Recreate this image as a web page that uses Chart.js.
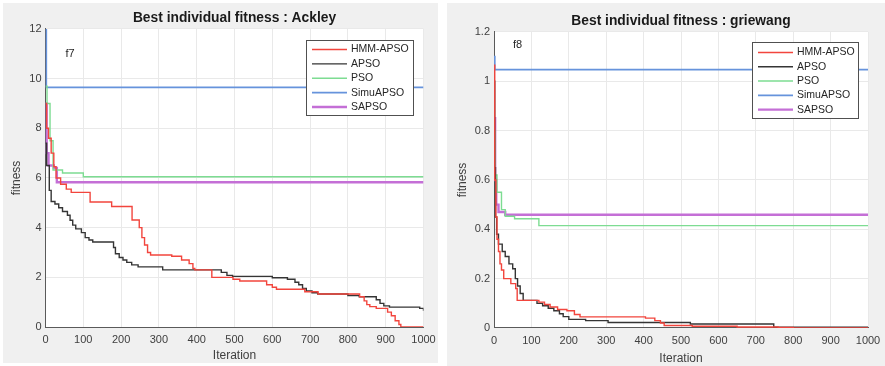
<!DOCTYPE html>
<html>
<head>
<meta charset="utf-8">
<script src="https://cdn.jsdelivr.net/npm/chart.js@4.4.1/dist/chart.umd.min.js"></script>
<style>
  html, body { margin: 0; padding: 0; background: #fff; }
  body { width: 885px; height: 366px; position: relative; overflow: hidden; }
  .fig { position: absolute; background: #f0f0f0; }
  #ackleyWrap { left: 3px; top: 3px; width: 435px; height: 360px; }
  #griewangWrap { left: 447px; top: 3px; width: 438px; height: 363px; }
</style>
</head>
<body>
<div class="fig" id="ackleyWrap"><canvas id="ackley"></canvas></div>
<div class="fig" id="griewangWrap"><canvas id="griewang"></canvas></div>
<script>
// Series names (legend order)
const seriesNames = ['HMM-APSO', 'APSO', 'PSO', 'SimuAPSO', 'SAPSO'];
const seriesColors = ['#f2453d', '#353535', '#7ddc92', '#6693dc', '#c46fd6'];
const seriesWidths = [1.4, 1.4, 1.4, 1.8, 2.4];

// Axis ticks
const iterMin = 0, iterMax = 1000, iterStep = 100;
const ackleyYMax = 12, ackleyYStep = 2;
const griewangYMax = 1.2, griewangYStep = 0.2;

// f7 : Ackley  (iteration where a value starts, best fitness)
const ackHmmIt  = [0, 3, 8, 15, 22, 28, 40, 55, 68, 118, 175, 229, 248, 255, 262, 270, 278, 334, 360, 380, 390, 395, 440, 496, 514, 585, 600, 611, 686, 721, 831, 843, 850, 858, 875, 905, 915, 925, 935, 940, 1000];
const ackHmmFit = [9.0, 8.0, 7.6, 7.0, 6.45, 6.0, 5.75, 5.55, 5.42, 5.03, 4.85, 4.31, 4.0, 3.6, 3.3, 3.0, 2.9, 2.85, 2.7, 2.55, 2.36, 2.3, 2.0, 1.92, 1.85, 1.7, 1.6, 1.52, 1.42, 1.33, 1.22, 1.05, 0.9, 0.82, 0.75, 0.6, 0.45, 0.25, 0.1, 0.0, 0.0];
const ackApsoIt  = [0, 3, 10, 15, 25, 35, 45, 58, 65, 72, 80, 95, 105, 115, 125, 180, 185, 195, 205, 215, 228, 245, 310, 465, 480, 495, 600, 640, 660, 670, 680, 690, 705, 720, 800, 830, 875, 885, 895, 910, 990, 1000];
const ackApsoFit = [7.4, 6.5, 5.5, 5.05, 4.95, 4.8, 4.65, 4.5, 4.3, 4.1, 3.95, 3.8, 3.6, 3.5, 3.42, 3.2, 2.95, 2.8, 2.7, 2.6, 2.5, 2.42, 2.3, 2.2, 2.08, 2.04, 1.98, 1.92, 1.8, 1.7, 1.55, 1.45, 1.38, 1.33, 1.27, 1.22, 1.1, 0.95, 0.85, 0.8, 0.75, 0.65];
const ackPsoIt  = [0, 4, 12, 20, 45, 100, 1000];
const ackPsoFit = [9.7, 9.0, 7.5, 6.32, 6.2, 6.05, 6.05];
const ackSimuIt  = [0, 2, 1000];
const ackSimuFit = [12, 9.65, 9.65];
const ackSapsoIt  = [0, 3, 8, 22, 30, 1000];
const ackSapsoFit = [9.0, 7.0, 6.5, 6.4, 5.83, 5.83];

// f8 : Griewank
const grHmmIt  = [0, 2, 5, 8, 12, 16, 20, 26, 45, 58, 62, 120, 135, 150, 170, 195, 215, 230, 405, 430, 445, 455, 530, 650, 760, 800, 1000];
const grHmmFit = [1.065, 0.6, 0.45, 0.36, 0.31, 0.26, 0.235, 0.2, 0.18, 0.16, 0.112, 0.105, 0.095, 0.085, 0.075, 0.07, 0.055, 0.045, 0.04, 0.03, 0.02, 0.01, 0.007, 0.004, 0.002, 0.0, 0.0];
const grApsoIt  = [0, 2, 4, 7, 12, 22, 30, 40, 50, 57, 63, 70, 78, 115, 130, 145, 160, 175, 185, 200, 245, 305, 525, 748, 1000];
const grApsoFit = [1.0, 0.65, 0.45, 0.38, 0.34, 0.31, 0.29, 0.26, 0.24, 0.2, 0.17, 0.14, 0.112, 0.1, 0.09, 0.08, 0.07, 0.058, 0.046, 0.035, 0.03, 0.022, 0.016, 0.003, 0.003];
const grPsoIt  = [0, 3, 8, 20, 30, 55, 120, 1000];
const grPsoFit = [0.8, 0.62, 0.55, 0.48, 0.453, 0.443, 0.415, 0.415];
const grSimuIt  = [0, 2, 1000];
const grSimuFit = [1.1, 1.047, 1.047];
const grSapsoIt  = [0, 3, 6, 12, 30, 1000];
const grSapsoFit = [0.85, 0.6, 0.5, 0.47, 0.459, 0.459];

const FONT = '"Liberation Sans", Arial, Helvetica, sans-serif';

function toPoints(its, vals) {
  return its.map((x, i) => ({ x: x, y: vals[i] }));
}

// matlab style tick text: 1000, 1, 0.2 (no grouping, no trailing zeros)
function plainTick(v) {
  return String(Math.round(v * 1000) / 1000);
}

function makeDatasets(list) {
  return list.map((s, i) => ({
    label: seriesNames[i],
    data: toPoints(s[0], s[1]),
    borderColor: seriesColors[i],
    borderWidth: seriesWidths[i],
    pointRadius: 0,
    stepped: true,
    fill: false
  }));
}

// white plot area like matlab axes
const plotBg = {
  id: 'plotBg',
  beforeDraw(chart) {
    const a = chart.chartArea, ctx = chart.ctx;
    ctx.save();
    ctx.fillStyle = '#ffffff';
    ctx.fillRect(a.left, a.top, a.right - a.left, a.bottom - a.top);
    ctx.restore();
  }
};

// legend box inside the axes + the small function label (f7/f8)
const boxLegend = {
  id: 'boxLegend',
  afterDatasetsDraw(chart, args, opts) {
    const a = chart.chartArea, ctx = chart.ctx;
    const x0 = a.right - opts.right - opts.width;
    const y0 = a.top + opts.top;
    ctx.save();
    ctx.fillStyle = '#ffffff';
    ctx.fillRect(x0, y0, opts.width, opts.height);
    ctx.strokeStyle = '#505050';
    ctx.lineWidth = 1;
    ctx.strokeRect(Math.round(x0) + 0.5, Math.round(y0) + 0.5, opts.width, opts.height);
    ctx.font = '10.5px ' + FONT;
    ctx.textBaseline = 'middle';
    chart.data.datasets.forEach((ds, i) => {
      const y = y0 + opts.first + i * opts.step;
      ctx.strokeStyle = ds.borderColor;
      ctx.lineWidth = ds.borderWidth;
      ctx.beginPath();
      ctx.moveTo(x0 + 6, y);
      ctx.lineTo(x0 + 41, y);
      ctx.stroke();
      ctx.fillStyle = '#262626';
      ctx.fillText(ds.label, x0 + 45, y);
    });
    // function tag
    ctx.font = '11px ' + FONT;
    ctx.fillStyle = '#262626';
    ctx.textBaseline = 'middle';
    ctx.fillText(opts.tag, a.left + opts.tagX, a.top + opts.tagY);
    ctx.restore();
  }
};

function buildChart(id, title, tag, datasets, yMax, yStep, lay) {
  return new Chart(document.getElementById(id), {
    type: 'line',
    data: { datasets: datasets },
    plugins: [plotBg, boxLegend],
    options: {
      responsive: true,
      maintainAspectRatio: false,
      animation: false,
      layout: { padding: { left: 0, right: lay.padRight, top: 0, bottom: 0 } },
      plugins: {
        legend: { display: false },
        tooltip: { enabled: false },
        title: {
          display: true,
          text: title,
          fullSize: false,
          color: '#1a1a1a',
          font: { family: FONT, size: 13.8, weight: 'bold' },
          padding: { top: lay.titleTop, bottom: lay.titleBottom }
        },
        boxLegend: Object.assign({ tag: tag }, lay.legend)
      },
      scales: {
        x: {
          type: 'linear',
          min: iterMin,
          max: iterMax,
          ticks: { stepSize: iterStep, color: '#404040', padding: 6, font: { family: FONT, size: 11 }, callback: plainTick },
          grid: { color: '#e9e9e9', drawTicks: false },
          border: { color: '#5a5a5a', width: 1 },
          title: { display: true, text: 'Iteration', color: '#404040', font: { family: FONT, size: 12 }, padding: { top: 0, bottom: 0 } },
          afterFit(s) {
            s.height = lay.xHeight;
            s.paddingLeft = 0; s.paddingRight = 0;
          }
        },
        y: {
          type: 'linear',
          min: 0,
          max: yMax,
          ticks: { stepSize: yStep, color: '#404040', padding: 4, font: { family: FONT, size: 11 }, callback: plainTick },
          grid: { color: '#e9e9e9', drawTicks: false },
          border: { color: '#5a5a5a', width: 1 },
          title: { display: true, text: 'fitness', color: '#404040', font: { family: FONT, size: 12 }, padding: { top: lay.yTitlePad, bottom: 0 } },
          afterFit(s) {
            s.width = lay.yWidth;
            s.paddingTop = 0; s.paddingBottom = 0;
          }
        }
      }
    }
  });
}

buildChart('ackley', 'Best individual fitness : Ackley', 'f7',
  makeDatasets([
    [ackHmmIt, ackHmmFit], [ackApsoIt, ackApsoFit], [ackPsoIt, ackPsoFit],
    [ackSimuIt, ackSimuFit], [ackSapsoIt, ackSapsoFit]
  ]),
  ackleyYMax, ackleyYStep,
  { padRight: 14.5, titleTop: 6.9, titleBottom: 2.5, xHeight: 36, yWidth: 42.5, yTitlePad: 6.8,
    legend: { right: 10.5, top: 11, width: 107, height: 75, first: 9.5, step: 14.4, tagX: 20, tagY: 25 } });

buildChart('griewang', 'Best individual fitness : griewang', 'f8',
  makeDatasets([
    [grHmmIt, grHmmFit], [grApsoIt, grApsoFit], [grPsoIt, grPsoFit],
    [grSimuIt, grSimuFit], [grSapsoIt, grSapsoFit]
  ]),
  griewangYMax, griewangYStep,
  { padRight: 17, titleTop: 10.4, titleBottom: 2.0, xHeight: 38, yWidth: 47, yTitlePad: 8.8,
    legend: { right: 10, top: 10, width: 106, height: 76, first: 10.5, step: 14.3, tagX: 19, tagY: 13 } });
</script>
</body>
</html>
